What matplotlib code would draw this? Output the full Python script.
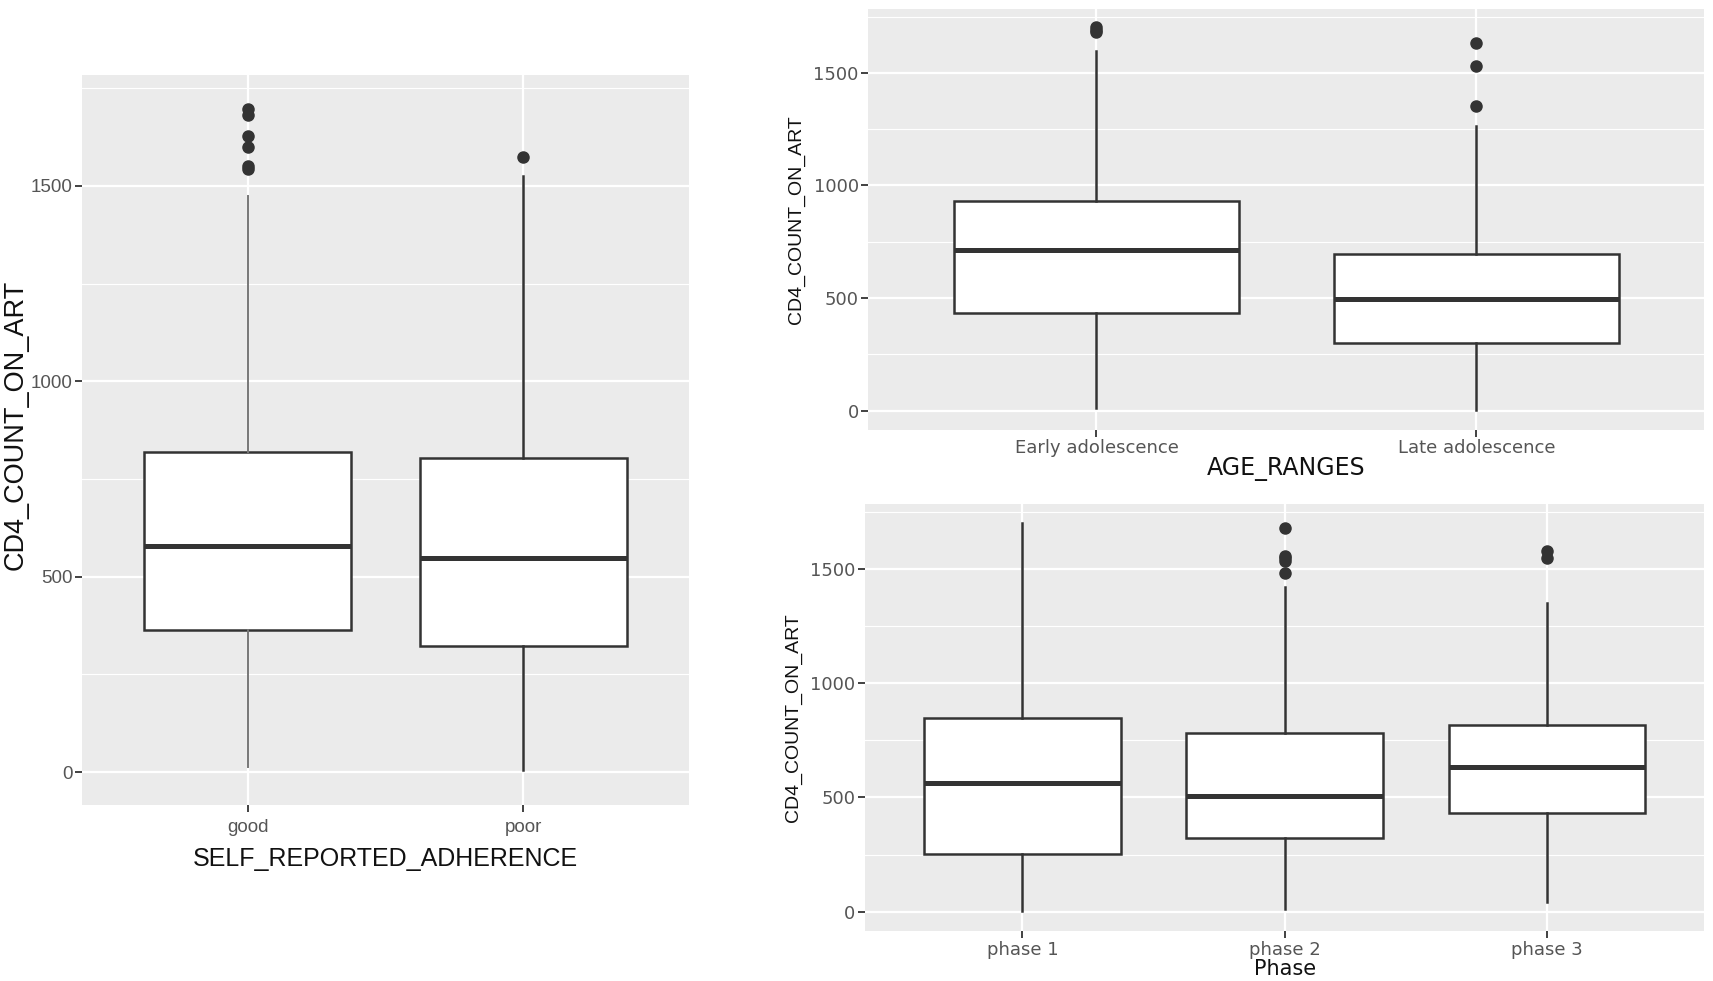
import numpy as np
import matplotlib
matplotlib.use("Agg")
import matplotlib.pyplot as plt
from matplotlib.ticker import MultipleLocator

# ---- data ----
adh_cats = ["good", "poor"]
adh_q1 = [364, 324]
adh_med = [580, 548]
adh_q3 = [818, 803]
adh_lo = [13, 5]
adh_hi = [1474, 1526]
adh_out = [[1698, 1682, 1629, 1599, 1550, 1543], [1573]]

age_cats = ["Early adolescence", "Late adolescence"]
age_q1 = [435, 298]
age_med = [714, 494]
age_q3 = [929, 697]
age_lo = [12, 4]
age_hi = [1599, 1266]
age_out = [[1706, 1691, 1681], [1632, 1530, 1352]]

ph_cats = ["phase 1", "phase 2", "phase 3"]
ph_q1 = [251, 321, 430]
ph_med = [564, 506, 633]
ph_q3 = [848, 783, 819]
ph_lo = [3, 13, 42]
ph_hi = [1701, 1424, 1351]
ph_out = [[], [1682, 1558, 1548, 1536, 1485], [1580, 1551]]

EDGE = "#333333"
BG = "#EBEBEB"


def make_stats(q1, med, q3, lo, hi, out):
    st = []
    for i in range(len(q1)):
        st.append(dict(q1=q1[i], med=med[i], q3=q3[i], whislo=lo[i],
                       whishi=hi[i], fliers=out[i]))
    return st


def gg_box(ax, cats, stats, tickfont, tsize, xfont, xsize, xlabel,
           yfont, ysize, xpad=2, ypad=4):
    n = len(cats)
    pos = np.arange(1, n + 1)
    ax.set_facecolor(BG)
    parts = ax.bxp(stats, positions=pos, widths=0.75, patch_artist=True,
                   showcaps=False,
                   boxprops=dict(facecolor="white", edgecolor=EDGE, linewidth=1.8),
                   whiskerprops=dict(color=EDGE, linewidth=1.8),
                   medianprops=dict(color=EDGE, linewidth=3.6),
                   flierprops=dict(marker="o", markerfacecolor=EDGE,
                                   markeredgecolor=EDGE, markersize=8),
                   zorder=3)
    ax.set_xlim(0.4, n + 0.6)
    ax.set_ylim(-85, 1785)
    ax.yaxis.set_major_locator(MultipleLocator(500))
    ax.yaxis.set_minor_locator(MultipleLocator(250))
    ax.grid(which="major", color="white", linewidth=1.6, zorder=0)
    ax.grid(which="minor", axis="y", color="white", linewidth=0.8, zorder=0)
    ax.set_axisbelow(True)
    for s in ax.spines.values():
        s.set_visible(False)
    ax.tick_params(which="major", length=5, width=1.3, color=EDGE,
                   labelcolor="#555555", pad=2)
    ax.tick_params(which="minor", length=0)
    ax.set_xticks(pos)
    ax.set_xticklabels(cats, family=tickfont, fontsize=tsize)
    for t in ax.get_yticklabels():
        t.set_family(tickfont)
        t.set_fontsize(tsize)
    ax.set_xlabel(xlabel, family=xfont, fontsize=xsize, color="#111111",
                  labelpad=xpad)
    ax.set_ylabel("CD4_COUNT_ON_ART", family=yfont, fontsize=ysize,
                  color="#111111", labelpad=ypad)
    return parts


fig = plt.figure(figsize=(17.13, 9.81), dpi=100)

ax1 = fig.add_axes([0.048, 0.179, 0.354, 0.745])
p1 = gg_box(ax1, adh_cats,
            make_stats(adh_q1, adh_med, adh_q3, adh_lo, adh_hi, adh_out),
            "Liberation Sans", 13.5, "Liberation Sans", 18,
            "SELF_REPORTED_ADHERENCE", "Liberation Sans", 19.5,
            xpad=8, ypad=6)
ax1.tick_params(axis="x", pad=5)
ax1.yaxis.set_label_coords(-0.088, 0.52)
# the "good" whiskers are drawn lighter in the original
for w in p1["whiskers"][:2]:
    w.set_color("#777777")
    w.set_linewidth(1.4)

ax2 = fig.add_axes([0.507, 0.562, 0.488, 0.429])
gg_box(ax2, age_cats,
       make_stats(age_q1, age_med, age_q3, age_lo, age_hi, age_out),
       "DejaVu Sans", 13, "DejaVu Sans", 17, "AGE_RANGES",
       "Liberation Sans", 14, xpad=0, ypad=6)

ax3 = fig.add_axes([0.505, 0.051, 0.490, 0.435])
gg_box(ax3, ph_cats,
       make_stats(ph_q1, ph_med, ph_q3, ph_lo, ph_hi, ph_out),
       "DejaVu Sans", 13, "DejaVu Sans", 15, "Phase",
       "Liberation Sans", 14, xpad=0, ypad=6)

fig.savefig("out.png", dpi=100, facecolor="white")
